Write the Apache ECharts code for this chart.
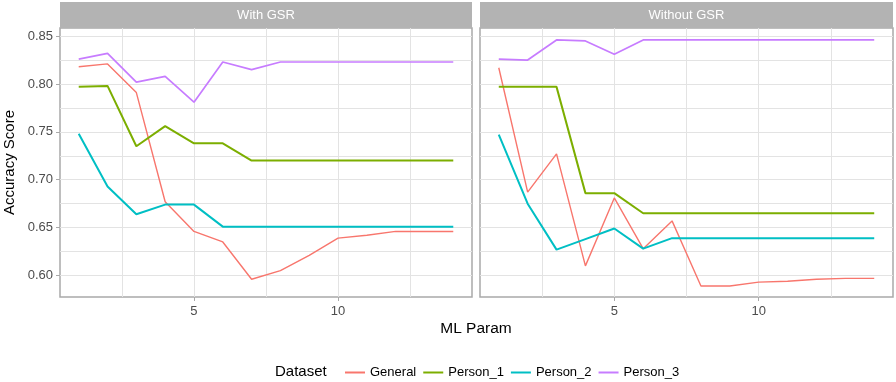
<!DOCTYPE html>
<html>
<head>
<meta charset="utf-8">
<script src="https://cdn.jsdelivr.net/npm/echarts@6/dist/echarts.min.js"></script>
<style>
  html, body { margin: 0; padding: 0; background: #fff; }
  #chart { width: 896px; height: 382px; }
</style>
</head>
<body>
<div id="chart"></div>
<script>
// ML Param values (x)
const params = [1, 2, 3, 4, 5, 6, 7, 8, 9, 10, 11, 12, 13, 14];
const panels = ['With GSR', 'Without GSR'];
const datasets = ['General', 'Person_1', 'Person_2', 'Person_3'];
const colors = ['#F8766D', '#7CAE00', '#00BFC4', '#C77CFF'];

// With GSR
const withGeneral = [0.818, 0.821, 0.791, 0.677, 0.646, 0.635, 0.596, 0.605, 0.621, 0.639, 0.642, 0.646, 0.646, 0.646];
const withPerson1 = [0.797, 0.798, 0.735, 0.756, 0.738, 0.738, 0.720, 0.720, 0.720, 0.720, 0.720, 0.720, 0.720, 0.720];
const withPerson2 = [0.748, 0.693, 0.664, 0.674, 0.674, 0.651, 0.651, 0.651, 0.651, 0.651, 0.651, 0.651, 0.651, 0.651];
const withPerson3 = [0.826, 0.832, 0.802, 0.808, 0.781, 0.823, 0.815, 0.823, 0.823, 0.823, 0.823, 0.823, 0.823, 0.823];

// Without GSR
const withoutGeneral = [0.817, 0.687, 0.727, 0.610, 0.681, 0.628, 0.657, 0.589, 0.589, 0.593, 0.594, 0.596, 0.597, 0.597];
const withoutPerson1 = [0.797, 0.797, 0.797, 0.686, 0.686, 0.665, 0.665, 0.665, 0.665, 0.665, 0.665, 0.665, 0.665, 0.665];
const withoutPerson2 = [0.747, 0.675, 0.627, 0.638, 0.649, 0.628, 0.639, 0.639, 0.639, 0.639, 0.639, 0.639, 0.639, 0.639];
const withoutPerson3 = [0.826, 0.825, 0.846, 0.845, 0.831, 0.846, 0.846, 0.846, 0.846, 0.846, 0.846, 0.846, 0.846, 0.846];

// tick positions
const xTickLabels = [5, 10];
const xGridValues = [2.5, 5, 7.5, 10, 12.5];
const yTickLabels = [0.60, 0.65, 0.70, 0.75, 0.80, 0.85];
const yGridValues = [0.600, 0.625, 0.650, 0.675, 0.700, 0.725, 0.750, 0.775, 0.800, 0.825, 0.850];

const panelData = [
  [withGeneral, withPerson1, withPerson2, withPerson3],
  [withoutGeneral, withoutPerson1, withoutPerson2, withoutPerson3]
];
const lineWidths = [1.4, 2, 2, 1.7];

const FONT = 'Liberation Sans, Arial, sans-serif';
const chart = echarts.init(document.getElementById('chart'), null, { renderer: 'canvas' });

const grids = [
  { left: 60, top: 28, width: 412, height: 269 },
  { left: 480, top: 28, width: 413, height: 269 }
];

const series = [];
panelData.forEach((group, p) => {
  group.forEach((vals, i) => {
    series.push({
      name: datasets[i],
      type: 'line',
      xAxisIndex: p,
      yAxisIndex: p,
      data: params.map((x, k) => [x, vals[k]]),
      showSymbol: false,
      symbol: 'none',
      lineStyle: { width: lineWidths[i], color: colors[i] },
      itemStyle: { color: colors[i] },
      z: 3
    });
  });
});

// grid-line axes (also carry labels)
const xAxes = grids.map((g, p) => ({
  type: 'value',
  gridIndex: p,
  min: 0.35,
  max: 14.65,
  axisLine: { show: false },
  axisTick: { show: false, customValues: xGridValues },
  axisLabel: {
    customValues: xTickLabels,
    color: '#4d4d4d',
    fontSize: 13,
    margin: 8
  },
  splitLine: { show: true, lineStyle: { color: '#e3e3e3', width: 1 } }
}));
// tick-mark axes, majors only
grids.forEach((g, p) => {
  xAxes.push({
    type: 'value',
    gridIndex: p,
    position: 'bottom',
    min: 0.35,
    max: 14.65,
    axisLine: { show: false },
    axisTick: { show: true, length: 4, customValues: xTickLabels, lineStyle: { color: '#a9a9a9', width: 1 } },
    axisLabel: { show: false },
    splitLine: { show: false }
  });
});

const yAxes = grids.map((g, p) => ({
  type: 'value',
  gridIndex: p,
  min: 0.5775,
  max: 0.8585,
  name: p === 0 ? 'Accuracy Score' : '',
  nameLocation: 'middle',
  nameGap: 43,
  nameTextStyle: { color: '#000', fontSize: 15 },
  axisLine: { show: false },
  axisTick: { show: false, customValues: yGridValues },
  axisLabel: {
    show: p === 0,
    customValues: yTickLabels,
    formatter: v => v.toFixed(2),
    color: '#4d4d4d',
    fontSize: 13,
    margin: 7
  },
  splitLine: { show: true, lineStyle: { color: '#e3e3e3', width: 1 } }
}));
yAxes.push({
  type: 'value',
  gridIndex: 0,
  position: 'left',
  min: 0.5775,
  max: 0.8585,
  axisLine: { show: false },
  axisTick: { show: true, length: 4, customValues: yTickLabels, lineStyle: { color: '#a9a9a9', width: 1 } },
  axisLabel: { show: false },
  splitLine: { show: false }
});

const option = {
  animation: false,
  backgroundColor: '#fff',
  textStyle: { fontFamily: FONT },
  grid: grids.map(g => Object.assign({
    show: true,
    backgroundColor: '#fff',
    borderColor: '#a9a9a9',
    borderWidth: 1.5,
    outerBoundsMode: 'none'
  }, g)),
  xAxis: xAxes,
  yAxis: yAxes,
  legend: {
    data: datasets,
    left: 340,
    top: 361,
    itemWidth: 20,
    itemHeight: 2,
    itemGap: 7,
    icon: 'rect',
    textStyle: { color: '#000', fontSize: 13 }
  },
  graphic: [
    {
      type: 'rect',
      shape: { x: 60, y: 2, width: 412, height: 26 },
      style: { fill: '#b3b3b3' }
    },
    {
      type: 'rect',
      shape: { x: 480, y: 2, width: 413, height: 26 },
      style: { fill: '#b3b3b3' }
    },
    {
      type: 'text',
      x: 266, y: 15,
      style: { text: panels[0], fill: '#fff', fontSize: 13, align: 'center', verticalAlign: 'middle', fontFamily: FONT }
    },
    {
      type: 'text',
      x: 686.5, y: 15,
      style: { text: panels[1], fill: '#fff', fontSize: 13, align: 'center', verticalAlign: 'middle', fontFamily: FONT }
    },
    {
      type: 'text',
      x: 476, y: 329,
      style: { text: 'ML Param', fill: '#000', fontSize: 15.5, align: 'center', verticalAlign: 'middle', fontFamily: FONT }
    },
    {
      type: 'text',
      x: 275, y: 372,
      style: { text: 'Dataset', fill: '#000', fontSize: 15, align: 'left', verticalAlign: 'middle', fontFamily: FONT }
    }
  ],
  series: series
};

chart.setOption(option);
</script>
</body>
</html>
